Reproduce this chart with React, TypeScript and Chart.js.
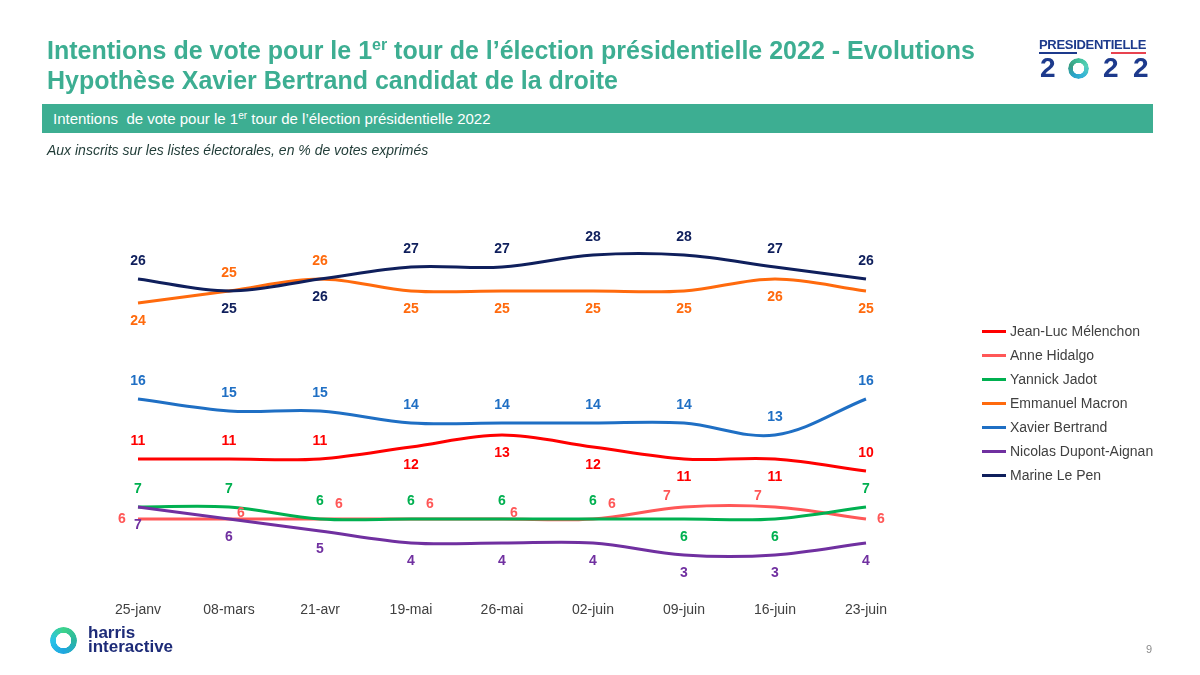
import React, { useEffect, useRef } from "react";
import { Chart, registerables } from "chart.js";

Chart.register(...registerables);

const categories = ["25-janv", "08-mars", "21-avr", "19-mai", "26-mai", "02-juin", "09-juin", "16-juin", "23-juin"];

const melenchon = [11, 11, 11, 12, 13, 12, 11, 11, 10];
const hidalgo = [6, 6, 6, 6, 6, 6, 7, 7, 6];
const jadot = [7, 7, 6, 6, 6, 6, 6, 6, 7];
const macron = [24, 25, 26, 25, 25, 25, 25, 26, 25];
const bertrand = [16, 15, 15, 14, 14, 14, 14, 13, 16];
const dupontAignan = [7, 6, 5, 4, 4, 4, 3, 3, 4];
const lePen = [26, 25, 26, 27, 27, 28, 28, 27, 26];

const seriesNames = [
  "Jean-Luc Mélenchon",
  "Anne Hidalgo",
  "Yannick Jadot",
  "Emmanuel Macron",
  "Xavier Bertrand",
  "Nicolas Dupont-Aignan",
  "Marine Le Pen",
];
const seriesValues = [melenchon, hidalgo, jadot, macron, bertrand, dupontAignan, lePen];
const seriesColors = ["#ff0000", "#ff5757", "#00b050", "#ff6a0d", "#1f6fc4", "#7030a0", "#0f1f5c"];

// label anchor per point: a = above, b = below, l = left, r = right, ar = above-right, al = above-left, rs = slightly right-up
const melenchonLabels = ["a", "a", "a", "b", "b", "b", "b", "b", "a"];
const hidalgoLabels = ["l", "rs", "ar", "ar", "rs", "ar", "al", "al", "r"];
const jadotLabels = ["a", "a", "a", "a", "a", "a", "b", "b", "a"];
const macronLabels = ["b", "a", "a", "b", "b", "b", "b", "b", "b"];
const bertrandLabels = ["a", "a", "a", "a", "a", "a", "a", "a", "a"];
const dupontAignanLabels = ["b", "b", "b", "b", "b", "b", "b", "b", "b"];
const lePenLabels = ["a", "b", "b", "a", "a", "a", "a", "a", "a"];
const seriesLabelAnchors = [melenchonLabels, hidalgoLabels, jadotLabels, macronLabels, bertrandLabels, dupontAignanLabels, lePenLabels];

const anchorOffsets: Record<string, [number, number]> = {
  a: [0, -18],
  b: [0, 18],
  l: [-16, 0],
  r: [15, 0],
  ar: [19, -15],
  rs: [12, -6],
  al: [-17, -11],
};

const FONT = "'Liberation Sans', Arial, sans-serif";

const dataLabelPlugin = {
  id: "dataLabels",
  afterDatasetsDraw(chart: any) {
    const ctx = chart.ctx;
    ctx.save();
    ctx.font = `bold 14px ${FONT}`;
    ctx.textAlign = "center";
    ctx.textBaseline = "middle";
    chart.data.datasets.forEach((ds: any, di: number) => {
      const meta = chart.getDatasetMeta(di);
      const anchors = seriesLabelAnchors[di];
      meta.data.forEach((pt: any, i: number) => {
        const off = anchorOffsets[anchors[i]] || [0, -18];
        ctx.fillStyle = ds.borderColor;
        ctx.fillText(String(ds.data[i]), pt.x + off[0], pt.y + off[1]);
      });
    });
    ctx.restore();
  },
};

function ChartCanvas() {
  const ref = useRef<HTMLCanvasElement | null>(null);
  useEffect(() => {
    if (!ref.current) return;
    const n = seriesNames.length;
    const chart = new Chart(ref.current, {
      type: "line",
      data: {
        labels: categories,
        datasets: seriesNames.map((name, i) => ({
          label: name,
          data: seriesValues[i],
          borderColor: seriesColors[i],
          backgroundColor: seriesColors[i],
          borderWidth: 3,
          pointRadius: 0,
          tension: 0.35,
          fill: false,
          order: n - 1 - i,
        })),
      },
      options: {
        responsive: false,
        animation: false,
        devicePixelRatio: 1,
        layout: { padding: { left: 138, right: 334, top: 231, bottom: 54 } },
        plugins: {
          legend: { display: false },
          title: { display: false },
          tooltip: { enabled: false },
        },
        scales: {
          x: {
            type: "category",
            offset: false,
            grid: { display: false, drawTicks: false },
            border: { display: false },
            ticks: {
              color: "#404040",
              font: { family: FONT, size: 14 },
              padding: 11,
              maxRotation: 0,
              autoSkip: false,
            },
            afterFit(scale: any) {
              scale.height = 30;
            },
          },
          y: {
            display: false,
            min: 0,
            max: 30,
          },
        },
      },
      plugins: [dataLabelPlugin],
    } as any);
    return () => chart.destroy();
  }, []);
  return (
    <canvas
      ref={ref}
      width={1200}
      height={675}
      style={{ position: "absolute", left: 0, top: 0, width: 1200, height: 675 }}
    />
  );
}

function Ring({ size, thickness, gradient }: { size: number; thickness: number; gradient: string }) {
  const inner = size / 2 - thickness;
  return (
    <div
      style={{
        width: size,
        height: size,
        borderRadius: "50%",
        background: gradient,
        WebkitMask: `radial-gradient(circle, transparent ${inner}px, #000 ${inner + 0.5}px)`,
        mask: `radial-gradient(circle, transparent ${inner}px, #000 ${inner + 0.5}px)`,
      }}
    />
  );
}

export default function App() {
  const teal = "#3dae92";
  const logoBlue = "#1d3a8c";
  const digit: React.CSSProperties = {
    position: "absolute",
    top: 0,
    fontSize: 28,
    fontWeight: "bold",
    lineHeight: "28px",
    color: logoBlue,
  };
  return (
    <div
      style={{
        position: "absolute",
        left: 0,
        top: 0,
        width: 1200,
        height: 675,
        background: "#ffffff",
        fontFamily: FONT,
        overflow: "hidden",
      }}
    >
      <ChartCanvas />
      {/* Title */}
      <div
        style={{
          position: "absolute",
          left: 47,
          top: 35,
          color: teal,
          fontWeight: "bold",
          fontSize: 25,
          lineHeight: "30px",
          whiteSpace: "nowrap",
        }}
      >
        <div>
          Intentions de vote pour le 1<sup style={{ fontSize: 16, verticalAlign: "9px", lineHeight: 0 }}>er</sup> tour de
          l’élection présidentielle 2022 - Evolutions
        </div>
        <div>Hypothèse Xavier Bertrand candidat de la droite</div>
      </div>
      {/* Banner */}
      <div
        style={{
          position: "absolute",
          left: 42,
          top: 104,
          width: 1111,
          height: 29,
          background: teal,
          color: "#ffffff",
          fontSize: 15,
          lineHeight: "29px",
          paddingLeft: 11,
          boxSizing: "border-box",
          whiteSpace: "nowrap",
        }}
      >
        Intentions&nbsp; de vote pour le 1<sup style={{ fontSize: 10, verticalAlign: "5px", lineHeight: 0 }}>er</sup> tour de
        l’élection présidentielle 2022
      </div>
      {/* Subtitle */}
      <div
        style={{
          position: "absolute",
          left: 47,
          top: 141,
          color: "#1f3b36",
          fontStyle: "italic",
          fontSize: 14,
          lineHeight: "18px",
          whiteSpace: "nowrap",
        }}
      >
        Aux inscrits sur les listes électorales, en % de votes exprimés
      </div>
      {/* Legend */}
      {seriesNames.map((name, i) => (
        <div
          key={name}
          style={{ position: "absolute", left: 982, top: 331 + i * 24 - 10, height: 20, display: "flex", alignItems: "center" }}
        >
          <div style={{ width: 24, height: 3, background: seriesColors[i] }} />
          <div style={{ marginLeft: 4, fontSize: 14, color: "#404040", whiteSpace: "nowrap" }}>{name}</div>
        </div>
      ))}
      {/* Presidentielle logo */}
      <div style={{ position: "absolute", left: 1039, top: 37, color: logoBlue }}>
        <div style={{ fontSize: 13, fontWeight: "bold", letterSpacing: -0.3, lineHeight: "16px", whiteSpace: "nowrap" }}>
          <span style={{ borderBottom: `2px solid ${logoBlue}` }}>PRESI</span>DENT
          <span style={{ borderBottom: "2px solid #e8434f" }}>IELLE</span>
        </div>
      </div>
      <div style={{ position: "absolute", left: 1039, top: 54, width: 115, height: 28 }}>
        <span style={{ ...digit, left: 1 }}>2</span>
        <div style={{ position: "absolute", left: 29, top: 4 }}>
          <Ring size={21} thickness={5} gradient="conic-gradient(#3fbf9a, #56d0b8, #36b5d6, #2aa3c9, #3a9e82, #3fbf9a)" />
        </div>
        <span style={{ ...digit, left: 64 }}>2</span>
        <span style={{ ...digit, left: 94 }}>2</span>
      </div>
      {/* Harris interactive logo */}
      <div style={{ position: "absolute", left: 50, top: 626, display: "flex", alignItems: "center" }}>
        <Ring size={27} thickness={6} gradient="conic-gradient(#3dd38a, #2bb5a0, #1fa6e0, #29c3e8, #3dd38a)" />
        <div style={{ marginLeft: 11, color: "#1d2b78", fontWeight: "bold", fontSize: 17, lineHeight: "14px" }}>
          <div>harris</div>
          <div>interactive</div>
        </div>
      </div>
      {/* Page number */}
      <div style={{ position: "absolute", left: 1146, top: 643, color: "#8c8c8c", fontSize: 11 }}>9</div>
    </div>
  );
}
